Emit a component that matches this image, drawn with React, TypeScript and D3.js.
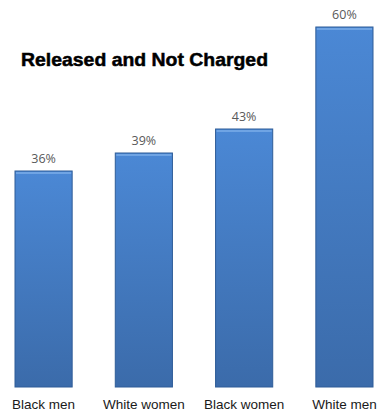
import React, { useEffect, useRef } from 'react';
import * as d3 from 'd3';

const categories = ['Black men', 'White women', 'Black women', 'White men'];
const values = [36, 39, 43, 60];
const title = 'Released and Not Charged';

export default function App() {
  const ref = useRef<SVGSVGElement>(null);

  useEffect(() => {
    const svg = d3.select(ref.current);
    svg.selectAll('*').remove();

    const x = d3.scaleBand<string>()
      .domain(categories)
      .range([15, 373])
      .paddingInner(0.43)
      .paddingOuter(0);

    const y = d3.scaleLinear().domain([0, 60]).range([387, 27]);

    // bar fill, lighter at the top
    const defs = svg.append('defs');
    const grad = defs.append('linearGradient')
      .attr('id', 'barGrad')
      .attr('x1', 0).attr('y1', 0).attr('x2', 0).attr('y2', 1);
    grad.append('stop').attr('offset', '0%').attr('stop-color', '#4b88d5');
    grad.append('stop').attr('offset', '100%').attr('stop-color', '#3b6baa');

    const g = svg.append('g');

    g.selectAll('.bar')
      .data(values)
      .join('rect')
      .attr('class', 'bar')
      .attr('x', (d, i) => x(categories[i])!)
      .attr('y', d => y(d))
      .attr('width', x.bandwidth())
      .attr('height', d => y(0) - y(d))
      .attr('fill', 'url(#barGrad)')
      .attr('stroke', '#2f5d98')
      .attr('stroke-width', 1);

    // thin light edge along the top of each bar
    g.selectAll('.bar-top')
      .data(values)
      .join('rect')
      .attr('class', 'bar-top')
      .attr('x', (d, i) => x(categories[i])! + 1)
      .attr('y', d => y(d) + 1)
      .attr('width', x.bandwidth() - 2)
      .attr('height', 2)
      .attr('fill', '#6fa4e4');

    g.selectAll('.val')
      .data(values)
      .join('text')
      .attr('class', 'val')
      .attr('x', (d, i) => x(categories[i])! + x.bandwidth() / 2)
      .attr('y', d => y(d) - 8)
      .attr('text-anchor', 'middle')
      .style('font-family', '"Open Sans", sans-serif')
      .style('font-size', '12.5px')
      .style('fill', '#595959')
      .text(d => d + '%');

    g.selectAll('.cat')
      .data(categories)
      .join('text')
      .attr('class', 'cat')
      .attr('x', d => x(d)! + x.bandwidth() / 2)
      .attr('y', 409)
      .attr('text-anchor', 'middle')
      .style('font-family', '"Liberation Sans", Arial, sans-serif')
      .style('font-size', '13.5px')
      .style('fill', '#1a1a1a')
      .text(d => d);

    svg.append('text')
      .attr('x', 21)
      .attr('y', 66)
      .attr('textLength', 247)
      .attr('lengthAdjust', 'spacingAndGlyphs')
      .style('font-family', '"Liberation Sans", Arial, sans-serif')
      .style('font-size', '19px')
      .style('font-weight', 'bold')
      .style('fill', '#000')
      .style('stroke', '#000')
      .style('stroke-width', 0.5)
      .text(title);
  }, []);

  return (
    <svg ref={ref} width={388} height={420}
      style={{ position: 'absolute', left: 0, top: 0, background: '#fff' }} />
  );
}
